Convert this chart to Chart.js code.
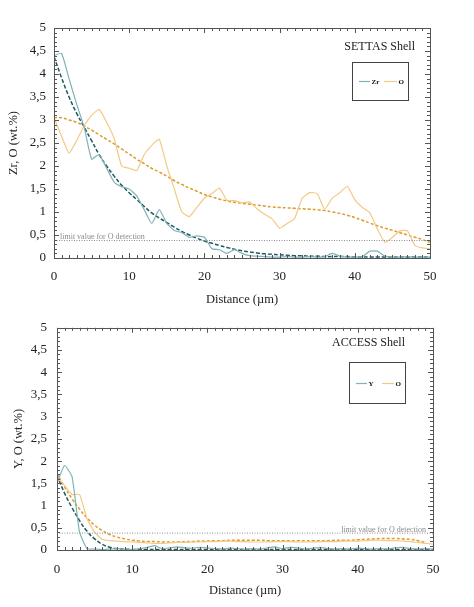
<!DOCTYPE html>
<html>
<head>
<meta charset="utf-8">
<script src="https://cdn.jsdelivr.net/npm/chart.js@4.4.0/dist/chart.umd.min.js"></script>
<style>
    body { margin: 0; background: #fff; }
    #wrap { position: relative; width: 474px; height: 607px; }
    canvas { position: absolute; left: 0; }
    #chart-1 { top: 0; }
    #chart-2 { top: 310px; }
</style>
</head>
<body>
<div id="wrap">
    <canvas id="chart-1" width="474" height="310"></canvas>
    <canvas id="chart-2" width="474" height="297"></canvas>
</div>
<script>
// distance (µm)
const distance = [0, 1, 2, 3, 4, 5, 6, 7, 8, 9, 10, 11, 12, 13, 14, 15, 16, 17, 18, 19, 20,
    21, 22, 23, 24, 25, 26, 27, 28, 29, 30, 31, 32, 33, 34, 35, 36, 37, 38, 39, 40,
    41, 42, 43, 44, 45, 46, 47, 48, 49, 50];

// SETTAS shell
const settasZr = [4.4, 4.45, 3.9, 3.35, 2.85, 2.15, 2.25, 1.95, 1.65, 1.55, 1.5, 1.35, 1.05, 0.75, 1.05, 0.75, 0.6, 0.55, 0.45, 0.48, 0.45,
    0.2, 0.18, 0.1, 0.18, 0.1, 0.05, 0.04, 0.03, 0.02, 0.02, 0.03, 0.02, 0.02, 0.03, 0.02, 0.03, 0.1, 0.04, 0.02, 0.02,
    0.03, 0.15, 0.15, 0.04, 0.02, 0.02, 0.03, 0.02, 0.02, 0.02];
const settasZrFit = [4.38, 3.92, 3.5, 3.15, 2.85, 2.55, 2.25, 2.0, 1.78, 1.58, 1.42, 1.27, 1.12, 0.98, 0.87, 0.77, 0.67, 0.58, 0.5, 0.43, 0.37,
    0.32, 0.27, 0.23, 0.19, 0.16, 0.13, 0.11, 0.09, 0.08, 0.07, 0.06, 0.05, 0.05, 0.04, 0.04, 0.03, 0.03, 0.03, 0.03, 0.02,
    0.02, 0.02, 0.02, 0.02, 0.02, 0.02, 0.02, 0.02, 0.02, 0.02];
const settasO = [3.05, 2.65, 2.28, 2.55, 2.87, 3.1, 3.23, 2.95, 2.6, 2.0, 1.95, 1.9, 2.25, 2.45, 2.58, 2.0, 1.5, 1.0, 0.9, 1.1, 1.3,
    1.4, 1.52, 1.25, 1.25, 1.2, 1.22, 1.07, 0.95, 0.85, 0.65, 0.75, 0.86, 1.3, 1.42, 1.4, 1.06, 1.3, 1.42, 1.56, 1.27,
    1.1, 0.98, 0.63, 0.34, 0.45, 0.59, 0.59, 0.27, 0.22, 0.2];
const settasOFit = [3.05, 3.05, 3.0, 2.95, 2.87, 2.78, 2.68, 2.58, 2.48, 2.37, 2.26, 2.15, 2.05, 1.95, 1.87, 1.78, 1.68, 1.6, 1.52, 1.45, 1.38,
    1.33, 1.28, 1.24, 1.21, 1.19, 1.17, 1.15, 1.13, 1.11, 1.1, 1.09, 1.08, 1.07, 1.06, 1.05, 1.03, 1.0, 0.97, 0.93, 0.88,
    0.82, 0.76, 0.7, 0.65, 0.6, 0.55, 0.5, 0.45, 0.4, 0.34];

// ACCESS shell
const accessY = [1.5, 1.9, 1.65, 0.4, 0.03, 0.02, 0.01, 0.02, 0.03, 0.02, 0.01, 0.03, 0.06, 0.1, 0.03, 0.05, 0.07, 0.05, 0.04, 0.06, 0.05,
    0.03, 0.02, 0.04, 0.03, 0.02, 0.03, 0.02, 0.05, 0.07, 0.03, 0.06, 0.05, 0.02, 0.04, 0.06, 0.03, 0.02, 0.03, 0.02, 0.04,
    0.03, 0.02, 0.03, 0.02, 0.05, 0.06, 0.03, 0.02, 0.03, 0.02];
const accessYFit = [1.68, 1.28, 0.95, 0.66, 0.42, 0.25, 0.13, 0.06, 0.03, 0.02, 0.01, 0.01, 0.01, 0.01, 0.01, 0.01, 0.01, 0.01, 0.01, 0.01, 0.01,
    0.01, 0.01, 0.01, 0.01, 0.01, 0.01, 0.01, 0.01, 0.01, 0.01, 0.01, 0.01, 0.01, 0.01, 0.01, 0.01, 0.01, 0.01, 0.01, 0.01,
    0.01, 0.01, 0.01, 0.01, 0.01, 0.01, 0.01, 0.01, 0.01, 0.01];
const accessO = [1.65, 1.45, 1.25, 1.25, 0.7, 0.4, 0.24, 0.21, 0.2, 0.19, 0.18, 0.17, 0.16, 0.15, 0.15, 0.16, 0.17, 0.17, 0.18, 0.18, 0.19,
    0.19, 0.2, 0.2, 0.19, 0.19, 0.18, 0.18, 0.18, 0.19, 0.19, 0.19, 0.18, 0.18, 0.18, 0.19, 0.19, 0.19, 0.2, 0.2, 0.2,
    0.21, 0.22, 0.22, 0.21, 0.21, 0.2, 0.19, 0.17, 0.15, 0.13];
const accessOFit = [1.72, 1.42, 1.15, 0.92, 0.72, 0.56, 0.44, 0.35, 0.29, 0.25, 0.22, 0.2, 0.19, 0.19, 0.18, 0.18, 0.18, 0.19, 0.19, 0.2, 0.2,
    0.21, 0.21, 0.22, 0.22, 0.22, 0.22, 0.22, 0.21, 0.21, 0.21, 0.21, 0.21, 0.21, 0.21, 0.21, 0.21, 0.22, 0.22, 0.22, 0.23,
    0.24, 0.25, 0.26, 0.26, 0.26, 0.25, 0.24, 0.21, 0.17, null];

const limitO = 0.38;
const xTicks = [0, 10, 20, 30, 40, 50];
const yTicks = [0, 0.5, 1, 1.5, 2, 2.5, 3, 3.5, 4, 4.5, 5];

const SERIF = "'Liberation Serif', 'Times New Roman', serif";
const TEAL = "#7fb3b6";
const TEAL_DARK = "#1d5b63";
const ORANGE = "#f4c985";
const ORANGE_DARK = "#de9a2a";

function points(values) {
    return distance.map(function(d, i) { return { x: d, y: values[i] }; });
}

/**
 * cadre, petites graduations, titre, légende et texte de la limite
 */
const framePlugin = {
    id: "frame",
    afterDatasetsDraw(chart, args, opts) {
        const ctx = chart.ctx;
        const a = chart.chartArea;
        const sx = chart.scales.x;
        const sy = chart.scales.y;
        ctx.save();
        ctx.strokeStyle = "#555";
        ctx.lineWidth = 1;
        ctx.beginPath();
        for (let d = 0; d <= 50; d++) {
            const px = Math.round(sx.getPixelForValue(d)) + 0.5;
            const len = d % 10 == 0 ? 5 : 3;
            ctx.moveTo(px, a.bottom); ctx.lineTo(px, a.bottom - len);
            ctx.moveTo(px, a.top); ctx.lineTo(px, a.top + len);
        }
        for (let i = 0; i <= 50; i++) {
            const py = Math.round(sy.getPixelForValue(i / 10)) + 0.5;
            const len = i % 5 == 0 ? 5 : 3;
            ctx.moveTo(a.left, py); ctx.lineTo(a.left + len, py);
            ctx.moveTo(a.right, py); ctx.lineTo(a.right - len, py);
        }
        ctx.stroke();
        ctx.strokeRect(Math.round(a.left) + 0.5, Math.round(a.top) + 0.5,
            Math.round(a.right - a.left), Math.round(a.bottom - a.top));

        // titre
        ctx.fillStyle = "#222";
        ctx.font = "12px " + SERIF;
        ctx.textAlign = "right";
        ctx.textBaseline = "middle";
        ctx.fillText(opts.title, opts.titleX, opts.titleY);

        // texte de la limite
        const ly = sy.getPixelForValue(limitO);
        ctx.fillStyle = "#8a8a8a";
        ctx.font = "8px " + SERIF;
        ctx.textBaseline = "bottom";
        ctx.textAlign = opts.limitAlign;
        ctx.fillText("limit value for O detection", opts.limitX, ly + 0.5);

        // légende
        const b = opts.legendBox;
        ctx.strokeStyle = "#444";
        ctx.strokeRect(b[0] + 0.5, b[1] + 0.5, b[2], b[3]);
        ctx.textAlign = "left";
        ctx.textBaseline = "middle";
        ctx.font = "bold 7px " + SERIF;
        opts.legendItems.forEach(function(item) {
            ctx.strokeStyle = item.color;
            ctx.lineWidth = 1.2;
            ctx.beginPath();
            ctx.moveTo(item.x, opts.legendY + 0.5);
            ctx.lineTo(item.x + item.w, opts.legendY + 0.5);
            ctx.stroke();
            ctx.fillStyle = "#111";
            ctx.fillText(item.label, item.x + item.w + 1.5, opts.legendY + 1);
        });
        ctx.restore();
    }
};

function makeConfig(rawEl, fitEl, rawO, fitO, yTitle, layout, frameOpts) {
    const dataChart = {
        datasets: [
            { label: "limit", data: [{ x: 0, y: limitO }, { x: 50, y: limitO }], borderColor: "#8c8c8c",
              borderWidth: 1, borderDash: [1, 1.5], pointRadius: 0 },
            { label: "el", data: points(rawEl), borderColor: TEAL, borderWidth: 1.2, pointRadius: 0, tension: 0.15 },
            { label: "O", data: points(rawO), borderColor: ORANGE, borderWidth: 1.2, pointRadius: 0, tension: 0.15 },
            { label: "O fit", data: points(fitO), borderColor: ORANGE_DARK, borderWidth: 1.5, borderDash: [3, 2],
              pointRadius: 0, tension: 0.4 },
            { label: "el fit", data: points(fitEl), borderColor: TEAL_DARK, borderWidth: 1.5, borderDash: [4, 2],
              pointRadius: 0, tension: 0.4 }
        ]
    };

    return {
        type: "line",
        data: dataChart,
        options: {
            responsive: false,
            animation: false,
            devicePixelRatio: 1,
            layout: { padding: { top: layout.top, right: layout.right, left: 0, bottom: 0 } },
            plugins: {
                legend: { display: false },
                tooltip: { enabled: false },
                frame: frameOpts
            },
            scales: {
                x: {
                    type: "linear",
                    min: 0,
                    max: 50,
                    afterFit: function(scale) { scale.height = layout.xHeight; },
                    afterBuildTicks: function(scale) { scale.ticks = xTicks.map(function(v) { return { value: v }; }); },
                    grid: { display: false, drawTicks: false },
                    border: { display: false },
                    ticks: { padding: layout.xPad, color: "#222", font: { family: SERIF, size: 13 } },
                    title: { display: true, text: "Distance (µm)", color: "#222",
                             font: { family: SERIF, size: 12.5 }, padding: { top: 0, bottom: layout.xTitlePad } }
                },
                y: {
                    min: 0,
                    max: 5,
                    afterFit: function(scale) { scale.width = layout.yWidth; },
                    afterBuildTicks: function(scale) { scale.ticks = yTicks.map(function(v) { return { value: v }; }); },
                    grid: { display: false, drawTicks: false },
                    border: { display: false },
                    ticks: {
                        padding: layout.yPad, color: "#222", font: { family: SERIF, size: 13 },
                        callback: function(value) { return value.toString().replace(".", ","); }
                    },
                    title: { display: true, text: yTitle, color: "#222",
                             font: { family: SERIF, size: 12.5 }, padding: { top: layout.yTitlePad, bottom: 0 } }
                }
            }
        },
        plugins: [framePlugin]
    };
}

function showSettasChart() {
    const config = makeConfig(settasZr, settasZrFit, settasO, settasOFit, "Zr, O (wt.%)",
        { top: 28, right: 44, xHeight: 52, xPad: 11, xTitlePad: 3, yWidth: 54, yPad: 8, yTitlePad: 6 },
        {
            title: "SETTAS Shell", titleX: 415, titleY: 47,
            limitX: 60, limitAlign: "left",
            legendBox: [352, 62, 56, 38], legendY: 81,
            legendItems: [
                { label: "Zr", color: TEAL, x: 359, w: 11 },
                { label: "O", color: ORANGE, x: 384, w: 13 }
            ]
        });
    new Chart(document.getElementById("chart-1"), config);
}

function showAccessChart() {
    const config = makeConfig(accessY, accessYFit, accessO, accessOFit, "Y, O (wt.%)",
        { top: 11, right: 41, xHeight: 57, xPad: 12, xTitlePad: 9, yWidth: 57, yPad: 10, yTitlePad: 11 },
        {
            title: "ACCESS Shell", titleX: 405, titleY: 33,
            limitX: 426, limitAlign: "right",
            legendBox: [349, 52, 56, 41], legendY: 73,
            legendItems: [
                { label: "Y", color: TEAL, x: 356, w: 11 },
                { label: "O", color: ORANGE, x: 382, w: 12 }
            ]
        });
    new Chart(document.getElementById("chart-2"), config);
}

showSettasChart();
showAccessChart();
</script>
</body>
</html>
